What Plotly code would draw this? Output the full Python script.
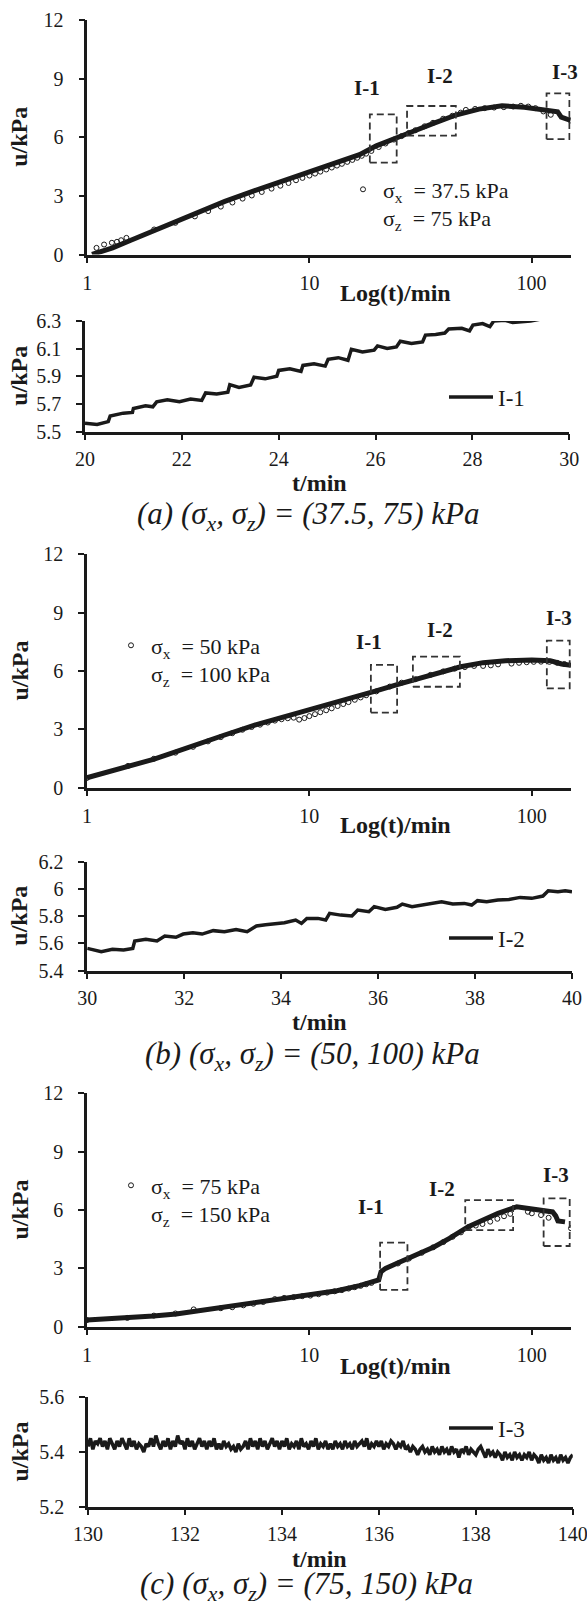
import math
import plotly.graph_objects as go

W, H = 587, 1610
FONT = "Liberation Serif"
INK = "#1a1a1a"

# ---------------- data ----------------
# (a) main panel, log time
a_line_t = [1.05, 1.3, 1.57, 2.0, 2.5, 3.17, 4.16, 5.67, 7.74, 10.0, 13.3, 16.8, 20.0, 24.8, 29.0,
            36.4, 46.0, 58.0, 73.6, 92.8, 112.0, 126.0, 131.0, 136.0, 150.0]
a_line_u = [0.0, 0.34, 0.73, 1.24, 1.70, 2.18, 2.72, 3.27, 3.80, 4.20, 4.68, 5.11, 5.56, 5.95, 6.28,
            6.72, 7.15, 7.44, 7.61, 7.54, 7.40, 7.27, 7.30, 7.03, 6.86]
a_pt_t = [1.10, 1.19, 1.29, 1.36, 1.42, 1.50, 2.0, 2.49, 3.05, 3.5, 3.99, 4.5, 5.0, 5.5, 6.1, 6.75,
          7.4, 8.05, 8.7, 9.3, 10.0, 10.6, 11.2, 11.9, 12.6, 13.3, 14.0, 14.8, 15.6, 16.4, 17.2, 18.0,
          19.0, 20.5, 22.0, 24.0, 26.0, 28.0, 30.0, 33.0, 36.0, 40.0, 44.0, 48.0, 50.6, 55.7, 61.5,
          67.8, 75.0, 82.6, 89.5, 96.6, 104.0, 113.0, 122.0, 150.0]
a_pt_u = [0.34, 0.51, 0.60, 0.65, 0.73, 0.85, 1.28, 1.62, 1.95, 2.22, 2.45, 2.66, 2.86, 3.02, 3.20, 3.37,
          3.52, 3.66, 3.80, 3.92, 4.04, 4.14, 4.24, 4.35, 4.45, 4.55, 4.64, 4.74, 4.84, 4.95, 5.05, 5.16,
          5.30, 5.50, 5.68, 5.88, 6.06, 6.22, 6.36, 6.56, 6.74, 6.95, 7.10, 7.26, 7.40, 7.45, 7.49,
          7.52, 7.54, 7.57, 7.61, 7.57, 7.49, 7.32, 7.15, 6.86]

# (a) zoom window I-1
a_zoom_t = [20.0, 20.25, 20.48, 20.52, 20.79, 20.98, 21.0, 21.25, 21.4, 21.48, 21.7, 21.95, 22.18, 22.41,
            22.49, 22.72, 22.95, 22.99, 23.18, 23.42, 23.49, 23.72, 23.96, 24.0, 24.23, 24.46, 24.5,
            24.73, 24.96, 25.02, 25.23, 25.43, 25.5, 25.73, 25.97, 26.04, 26.24, 26.43, 26.51, 26.74,
            26.97, 27.03, 27.24, 27.43, 27.51, 27.78, 27.94, 28.01, 28.21, 28.36, 28.44, 28.67, 28.83,
            29.02, 29.2, 29.5, 29.8, 30.0]
a_zoom_u = [5.561, 5.553, 5.573, 5.614, 5.634, 5.639, 5.668, 5.687, 5.680, 5.716, 5.731, 5.716, 5.736, 5.726,
            5.780, 5.772, 5.785, 5.840, 5.820, 5.838, 5.894, 5.882, 5.901, 5.943, 5.955, 5.935, 5.979,
            5.991, 5.974, 6.023, 6.035, 6.016, 6.096, 6.076, 6.089, 6.120, 6.101, 6.113, 6.154, 6.137,
            6.149, 6.198, 6.203, 6.213, 6.242, 6.247, 6.228, 6.271, 6.281, 6.259, 6.300, 6.305, 6.290,
            6.295, 6.300, 6.320, 6.330, 6.340]

# (b) main panel
b_line_t = [1.0, 1.52, 1.99, 2.52, 3.18, 4.16, 5.68, 7.74, 10.0, 13.3, 16.8, 19.6, 24.8, 30.0, 37.9,
            47.9, 60.4, 76.2, 100.0, 121.0, 128.0, 136.0, 150.0]
b_line_u = [0.51, 1.08, 1.46, 1.85, 2.28, 2.71, 3.22, 3.65, 3.99, 4.37, 4.68, 4.95, 5.30, 5.58, 5.92,
            6.22, 6.43, 6.53, 6.56, 6.53, 6.45, 6.36, 6.30]
b_pt_t = [1.0, 1.53, 2.0, 2.5, 3.0, 3.5, 4.0, 4.5, 5.0, 5.5, 6.0, 6.5, 7.0, 7.5, 8.0, 8.5, 9.0, 9.5, 10.0,
          10.6, 11.2, 11.9, 12.6, 13.4, 14.2, 15.0, 16.0, 17.0, 18.0, 20.0, 23.0, 26.0, 30.0, 35.0,
          40.0, 45.0, 50.0, 55.0, 60.4, 65.4, 70.5, 81.0, 87.6, 94.8, 102.0, 110.0, 120.0, 130.0, 140.0]
b_pt_u = [0.50, 1.12, 1.49, 1.80, 2.10, 2.38, 2.60, 2.80, 2.98, 3.12, 3.24, 3.35, 3.45, 3.52, 3.57, 3.60,
          3.50, 3.58, 3.68, 3.78, 3.88, 3.98, 4.08, 4.20, 4.30, 4.40, 4.52, 4.64, 4.75, 4.95, 5.20, 5.40,
          5.58, 5.80, 5.98, 6.12, 6.20, 6.26, 6.26, 6.29, 6.34, 6.38, 6.42, 6.45, 6.47, 6.48, 6.47,
          6.42, 6.36]

# (b) zoom window I-2
b_zoom_t = [30.0, 30.13, 30.29, 30.52, 30.75, 30.94, 30.98, 31.21, 31.44, 31.6, 31.83, 31.98, 32.18, 32.37,
            32.6, 32.83, 33.07, 33.3, 33.49, 33.68, 33.92, 34.07, 34.3, 34.42, 34.53, 34.76, 34.92, 35.0,
            35.23, 35.46, 35.58, 35.81, 35.92, 36.15, 36.39, 36.5, 36.7, 36.93, 37.16, 37.31, 37.54,
            37.78, 37.93, 38.05, 38.24, 38.47, 38.7, 38.93, 39.17, 39.4, 39.51, 39.71, 39.86, 40.0]
b_zoom_u = [5.564, 5.552, 5.539, 5.557, 5.552, 5.564, 5.618, 5.630, 5.618, 5.654, 5.645, 5.669, 5.679, 5.669,
            5.694, 5.686, 5.703, 5.686, 5.728, 5.738, 5.747, 5.752, 5.772, 5.747, 5.784, 5.784, 5.772, 5.821,
            5.808, 5.801, 5.845, 5.833, 5.870, 5.850, 5.865, 5.889, 5.870, 5.882, 5.899, 5.906, 5.889,
            5.894, 5.882, 5.914, 5.906, 5.919, 5.923, 5.938, 5.931, 5.948, 5.987, 5.980, 5.987, 5.980]

# (c) main panel
c_line_t = [1.0, 1.52, 1.99, 2.52, 3.18, 4.16, 5.68, 7.74, 10.0, 13.3, 16.8, 19.6, 20.5, 21.0, 22.0, 24.8,
            27.8, 31.2, 36.5, 42.6, 48.0, 51.8, 60.4, 70.5, 85.6, 100.0, 116.6, 124.0, 128.0, 131.0, 141.0]
c_line_u = [0.34, 0.43, 0.55, 0.65, 0.82, 0.99, 1.20, 1.42, 1.63, 1.85, 2.11, 2.31, 2.40, 2.83, 3.00, 3.26,
            3.51, 3.77, 4.11, 4.54, 4.90, 5.14, 5.49, 5.83, 6.17, 6.07, 6.00, 5.90, 5.70, 5.44, 5.39]
c_pt_t = [1.0, 1.52, 2.0, 2.5, 3.02, 4.0, 4.5, 5.05, 5.6, 6.2, 7.0, 7.7, 8.5, 9.3, 10.1, 11.0, 12.0, 13.0,
          14.0, 15.0, 16.0, 17.0, 18.0, 19.0, 25.0, 28.0, 32.0, 36.0, 40.0, 44.0, 48.0, 52.0, 56.0, 60.0,
          65.0, 70.0, 75.0, 80.0, 96.0, 100.0, 110.0, 119.0, 150.0]
c_pt_u = [0.34, 0.45, 0.57, 0.68, 0.89, 0.95, 1.00, 1.10, 1.18, 1.27, 1.42, 1.48, 1.52, 1.57, 1.60, 1.67, 1.75,
          1.82, 1.88, 1.96, 2.03, 2.10, 2.18, 2.25, 3.25, 3.50, 3.80, 4.08, 4.35, 4.62, 4.85, 5.12, 5.20,
          5.28, 5.40, 5.55, 5.68, 5.80, 5.91, 5.83, 5.74, 5.60, 5.06]

# (c) zoom window I-3 (sampled every 0.05 min)
c_zoom_t = [130.00, 130.05, 130.10, 130.15, 130.20, 130.25, 130.30, 130.35, 130.40, 130.45,
            130.50, 130.55, 130.60, 130.65, 130.70, 130.75, 130.80, 130.85, 130.90, 130.95,
            131.00, 131.05, 131.10, 131.15, 131.20, 131.25, 131.30, 131.35, 131.40, 131.45,
            131.50, 131.55, 131.60, 131.65, 131.70, 131.75, 131.80, 131.85, 131.90, 131.95,
            132.00, 132.05, 132.10, 132.15, 132.20, 132.25, 132.30, 132.35, 132.40, 132.45,
            132.50, 132.55, 132.60, 132.65, 132.70, 132.75, 132.80, 132.85, 132.90, 132.95,
            133.00, 133.05, 133.10, 133.15, 133.20, 133.25, 133.30, 133.35, 133.40, 133.45,
            133.50, 133.55, 133.60, 133.65, 133.70, 133.75, 133.80, 133.85, 133.90, 133.95,
            134.00, 134.05, 134.10, 134.15, 134.20, 134.25, 134.30, 134.35, 134.40, 134.45,
            134.50, 134.55, 134.60, 134.65, 134.70, 134.75, 134.80, 134.85, 134.90, 134.95,
            135.00, 135.05, 135.10, 135.15, 135.20, 135.25, 135.30, 135.35, 135.40, 135.45,
            135.50, 135.55, 135.60, 135.65, 135.70, 135.75, 135.80, 135.85, 135.90, 135.95,
            136.00, 136.05, 136.10, 136.15, 136.20, 136.25, 136.30, 136.35, 136.40, 136.45,
            136.50, 136.55, 136.60, 136.65, 136.70, 136.75, 136.80, 136.85, 136.90, 136.95,
            137.00, 137.05, 137.10, 137.15, 137.20, 137.25, 137.30, 137.35, 137.40, 137.45,
            137.50, 137.55, 137.60, 137.65, 137.70, 137.75, 137.80, 137.85, 137.90, 137.95,
            138.00, 138.05, 138.10, 138.15, 138.20, 138.25, 138.30, 138.35, 138.40, 138.45,
            138.50, 138.55, 138.60, 138.65, 138.70, 138.75, 138.80, 138.85, 138.90, 138.95,
            139.00, 139.05, 139.10, 139.15, 139.20, 139.25, 139.30, 139.35, 139.40, 139.45,
            139.50, 139.55, 139.60, 139.65, 139.70, 139.75, 139.80, 139.85, 139.90, 139.95,
            140.00]
c_zoom_u = [5.42, 5.45, 5.41, 5.44, 5.43, 5.45, 5.42, 5.44, 5.41, 5.45,
            5.43, 5.41, 5.44, 5.42, 5.45, 5.43, 5.41, 5.45, 5.42, 5.44,
            5.41, 5.43, 5.42, 5.40, 5.43, 5.42, 5.45, 5.42, 5.46, 5.43,
            5.41, 5.44, 5.42, 5.45, 5.41, 5.44, 5.42, 5.46, 5.43, 5.44,
            5.41, 5.45, 5.42, 5.44, 5.41, 5.43, 5.45, 5.42, 5.44, 5.41,
            5.44, 5.42, 5.45, 5.41, 5.43, 5.41, 5.44, 5.42, 5.43, 5.41,
            5.42, 5.40, 5.43, 5.41, 5.42, 5.44, 5.41, 5.45, 5.42, 5.44,
            5.41, 5.45, 5.42, 5.44, 5.41, 5.43, 5.45, 5.42, 5.44, 5.41,
            5.44, 5.42, 5.45, 5.41, 5.43, 5.42, 5.44, 5.41, 5.45, 5.42,
            5.43, 5.41, 5.44, 5.42, 5.45, 5.41, 5.43, 5.42, 5.44, 5.41,
            5.43, 5.41, 5.44, 5.42, 5.43, 5.41, 5.44, 5.42, 5.43, 5.41,
            5.44, 5.42, 5.43, 5.44, 5.42, 5.45, 5.41, 5.43, 5.42, 5.44,
            5.42, 5.44, 5.41, 5.43, 5.42, 5.44, 5.43, 5.41, 5.43, 5.42,
            5.44, 5.41, 5.42, 5.40, 5.42, 5.41, 5.39, 5.41, 5.42, 5.40,
            5.41, 5.39, 5.42, 5.40, 5.41, 5.39, 5.42, 5.40, 5.41, 5.39,
            5.42, 5.40, 5.41, 5.38, 5.41, 5.40, 5.42, 5.39, 5.41, 5.40,
            5.39, 5.41, 5.42, 5.40, 5.38, 5.41, 5.39, 5.40, 5.38, 5.40,
            5.39, 5.37, 5.40, 5.38, 5.39, 5.37, 5.40, 5.38, 5.39, 5.37,
            5.39, 5.38, 5.40, 5.37, 5.39, 5.38, 5.36, 5.39, 5.37, 5.38,
            5.36, 5.39, 5.37, 5.38, 5.36, 5.39, 5.37, 5.38, 5.36, 5.38,
            5.39]

# zoom windows drawn on main panels: (t0, t1, u0, u1)
box_labels = ["I-1", "I-2", "I-3"]
a_boxes = [(18.7, 24.7, 4.70, 7.17), (27.5, 45.6, 6.08, 7.60), (116.8, 148.0, 5.90, 8.25)]
b_boxes = [(18.9, 24.8, 3.86, 6.31), (29.2, 47.5, 5.19, 6.74), (116.8, 148.0, 5.11, 7.56)]
c_boxes = [(20.8, 27.6, 1.89, 4.32), (50.2, 82.4, 4.97, 6.51), (113.0, 148.0, 4.15, 6.60)]

legend_main = ["σ<sub>x</sub>\u00a0 = 37.5 kPa<br>σ<sub>z</sub>\u00a0 = 75 kPa",
               "σ<sub>x</sub>\u00a0 = 50 kPa<br>σ<sub>z</sub>\u00a0 = 100 kPa",
               "σ<sub>x</sub>\u00a0 = 75 kPa<br>σ<sub>z</sub>\u00a0 = 150 kPa"]
captions = ["<i>(a) (σ<sub>x</sub>, σ<sub>z</sub>) = (37.5, 75) kPa</i>",
            "<i>(b) (σ<sub>x</sub>, σ<sub>z</sub>) = (50, 100) kPa</i>",
            "<i>(c) (σ<sub>x</sub>, σ<sub>z</sub>) = (75, 150) kPa</i>"]

# ---------------- layout geometry (pixels) ----------------
def px(xp):
    return xp / W

def py(yp):
    return 1 - yp / H

# panel boxes: left, right, top, bottom (px)
panels = [
    (87.3, 570.7, 20.0, 254.5),
    (85.0, 569.3, 321.0, 431.7),
    (86.9, 571.0, 554.3, 787.7),
    (87.2, 572.0, 861.7, 970.7),
    (86.9, 571.0, 1093.3, 1326.7),
    (88.0, 572.8, 1397.3, 1506.7),
]

fig = go.Figure()

def ref(i, letter):
    return letter + ("" if i == 0 else str(i + 1))

main_sets = [(a_line_t, a_line_u, a_pt_t, a_pt_u, a_boxes),
             (b_line_t, b_line_u, b_pt_t, b_pt_u, b_boxes),
             (c_line_t, c_line_u, c_pt_t, c_pt_u, c_boxes)]
zoom_sets = [(a_zoom_t, a_zoom_u, "I-1"), (b_zoom_t, b_zoom_u, "I-2"), (c_zoom_t, c_zoom_u, "I-3")]

for k in range(3):
    im = 2 * k
    iz = 2 * k + 1
    lt, lu, pt, pu, boxes = main_sets[k]
    xr, yr = ref(im, "x"), ref(im, "y")
    lg = "legend" if im == 0 else "legend" + str(im + 1)
    fig.add_trace(go.Scatter(x=pt, y=pu, mode="markers", xaxis=xr, yaxis=yr,
                             marker=dict(symbol="circle-open", size=5, color=INK, line=dict(width=1)),
                             name=legend_main[k], legend=lg, showlegend=True))
    fig.add_trace(go.Scatter(x=lt, y=lu, mode="lines", xaxis=xr, yaxis=yr,
                             line=dict(color=INK, width=5), showlegend=False))
    for (t0, t1, u0, u1) in boxes:
        fig.add_trace(go.Scatter(x=[t0, t1, t1, t0, t0], y=[u0, u0, u1, u1, u0], mode="lines",
                                 xaxis=xr, yaxis=yr, showlegend=False,
                                 line=dict(color="#333333", width=1.8, dash="7px,4px")))
    zt, zu, zname = zoom_sets[k]
    xr2, yr2 = ref(iz, "x"), ref(iz, "y")
    fig.add_trace(go.Scatter(x=zt, y=zu, mode="lines", xaxis=xr2, yaxis=yr2,
                             line=dict(color=INK, width=3.5), name=zname,
                             legend="legend" + str(iz + 1), showlegend=True))

axis_common = dict(showline=True, linecolor=INK, linewidth=2.5, ticks="outside", ticklen=6,
                   tickwidth=2, tickcolor=INK, showgrid=False, zeroline=False,
                   ticklabeloverflow="allow",
                   tickfont=dict(family=FONT, size=20, color=INK))

zoom_ranges = [([20, 30], 20, [5.5, 6.3], 5.5), ([30, 40], 30, [5.4, 6.2], 5.4), ([130, 140], 130, [5.2, 5.6], 5.2)]

layout = dict(width=W, height=H, margin=dict(l=0, r=0, t=0, b=0, autoexpand=False), paper_bgcolor="white",
              plot_bgcolor="white", font=dict(family=FONT, color=INK))

for i, (l, r, t, b) in enumerate(panels):
    xa = "xaxis" + ("" if i == 0 else str(i + 1))
    ya = "yaxis" + ("" if i == 0 else str(i + 1))
    xd = [px(l), px(r)]
    yd = [py(b), py(t)]
    if i % 2 == 0:
        layout[xa] = dict(axis_common, domain=xd, anchor=ref(i, "y"), type="log",
                          range=[0, math.log10(150)], dtick=1, ticklabelstandoff=3)
        layout[ya] = dict(axis_common, domain=yd, anchor=ref(i, "x"), range=[0, 12], dtick=3, tick0=0,
                          ticklabelstandoff=11)
    else:
        xrg, x0, yrg, y0 = zoom_ranges[i // 2]
        layout[xa] = dict(axis_common, domain=xd, anchor=ref(i, "y"), range=xrg, dtick=2, tick0=x0,
                          ticklabelstandoff=2)
        layout[ya] = dict(axis_common, domain=yd, anchor=ref(i, "x"), range=yrg, dtick=0.2, tick0=y0,
                          ticklabelstandoff=11)

# legends
leg_main_pos = [(343.0, 204.0), (111.0, 660.0), (111.0, 1200.0)]
leg_zoom_pos = [(444.0, 397.0), (444.0, 938.0), (444.0, 1428.0)]
for k in range(3):
    im, iz = 2 * k, 2 * k + 1
    lgm = "legend" if im == 0 else "legend" + str(im + 1)
    lgz = "legend" + str(iz + 1)
    xm, ym = leg_main_pos[k]
    layout[lgm] = dict(x=px(xm), y=py(ym), xanchor="left", yanchor="middle", bgcolor="rgba(0,0,0,0)",
                       font=dict(family=FONT, size=22, color=INK), valign="top", borderwidth=0,
                       tracegroupgap=0)
    xz, yz = leg_zoom_pos[k]
    layout[lgz] = dict(x=px(xz), y=py(yz), xanchor="left", yanchor="middle", bgcolor="rgba(0,0,0,0)",
                       font=dict(family=FONT, size=23, color=INK), borderwidth=0, itemwidth=44)

annotations = []
def txt(s, x, y, size, bold=False, angle=0):
    annotations.append(dict(text=("<b>%s</b>" % s) if bold else s, x=px(x), y=py(y), xref="paper",
                            yref="paper", showarrow=False, xanchor="center", yanchor="middle",
                            textangle=angle, borderpad=0, font=dict(family=FONT, size=size, color=INK)))

# axis titles
for i, (l, r, t, b) in enumerate(panels):
    txt("u/kPa", 19.5, (t + b) / 2, 24, bold=True, angle=-90)
xtitle_y = [293.3, 483.0, 825.0, 1022.0, 1366.0, 1558.5]
for i in range(6):
    if i % 2 == 0:
        txt("Log(t)/min", 395.0, xtitle_y[i], 24, bold=True)
    else:
        txt("t/min", 319.0, xtitle_y[i], 24, bold=True)

# zoom window labels on main panels
label_pos = [[(367.0, 88.3), (440.3, 76.0), (565.0, 71.7)],
             [(368.8, 641.7), (440.0, 630.0), (558.6, 618.3)],
             [(370.6, 1206.7), (441.8, 1189.3), (556.0, 1175.0)]]
for k in range(3):
    for j in range(3):
        x, y = label_pos[k][j]
        txt(box_labels[j], x, y, 21, bold=True)

# captions
cap_pos = [(308.0, 516.0), (312.0, 1056.0), (306.0, 1585.5)]
for k in range(3):
    x, y = cap_pos[k]
    txt(captions[k], x, y, 31)

layout["annotations"] = annotations
fig.update_layout(**layout)
fig.write_html("out.html")
